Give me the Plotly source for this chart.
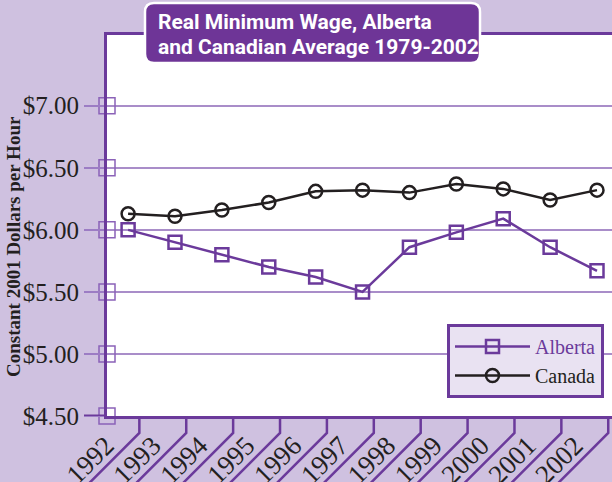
import plotly.graph_objects as go

years = list(range(1992, 2003))
alberta = [6.00, 5.90, 5.80, 5.70, 5.62, 5.50, 5.86, 5.98, 6.09, 5.86, 5.67]
canada = [6.13, 6.11, 6.16, 6.22, 6.31, 6.32, 6.30, 6.37, 6.33, 6.24, 6.32]
ytick_vals = [4.5, 5.0, 5.5, 6.0, 6.5, 7.0]
ytick_text = ["$4.50", "$5.00", "$5.50", "$6.00", "$6.50", "$7.00"]
xtick_text = [str(y) for y in years]
title_lines = ["Real Minimum Wage, Alberta", "and Canadian Average 1979-2002"]
ytitle = "Constant 2001 Dollars per Hour"

BG = "#cfc1e0"
PURPLE = "#6b3a9b"
GRID = "#a98dc9"
DARK = "#231f20"
SERIF = "Liberation Serif, DejaVu Serif, serif"
COND = "Roboto, Liberation Sans, sans-serif"

W, H = 612, 482
L, R, T, B = 107, 0, 35, 66
pw, ph = W - L - R, H - T - B
XR = [1991.55, 2002.32]
YR = [4.5, 7.57]


def px(x):
    return (x - L) / pw


def py(y):
    return (H - B - y) / ph


def xdata_to_paper(v):
    return (v - XR[0]) / (XR[1] - XR[0])


fig = go.Figure()

# y-axis square tick markers
fig.add_trace(go.Scatter(
    x=[XR[0]] * len(ytick_vals), y=ytick_vals, mode="markers",
    marker=dict(symbol="square-open", size=16, color="#8b62b8", line=dict(width=1.5)),
    cliponaxis=False, showlegend=False, hoverinfo="skip"))

fig.add_trace(go.Scatter(
    x=years, y=alberta, mode="lines+markers",
    name='<span style="color:%s">Alberta</span>' % PURPLE,
    line=dict(color=PURPLE, width=2.5),
    marker=dict(symbol="square-open", size=13, color=PURPLE, line=dict(width=2.5)),
    cliponaxis=False))
fig.add_trace(go.Scatter(
    x=years, y=canada, mode="lines+markers",
    name='<span style="color:%s">Canada</span>' % DARK,
    line=dict(color=DARK, width=2.5),
    marker=dict(symbol="circle-open", size=13, color=DARK, line=dict(width=2.5)),
    cliponaxis=False))

shapes = []
# separators between x labels
for yv in years:
    xp = xdata_to_paper(yv + 0.24)
    dx = 70 / pw
    shapes.append(dict(
        type="path", xref="paper", yref="paper",
        path="M %f,%f L %f,%f L %f,%f" % (xp, py(416), xp, py(433), xp - dx, py(433 + 70)),
        line=dict(color=PURPLE, width=2.5), layer="above"))

# extension of x axis to the left at $4.50
shapes.append(dict(type="line", xref="paper", yref="y", x0=px(84), x1=0, y0=4.5, y1=4.5,
                   line=dict(color=PURPLE, width=3)))

# title box (rounded)
x0, x1, y0, y1 = 145, 480, 3, 63
r = 9


def P(x, y):
    return "%f,%f" % (px(x), py(y))


path = ("M " + P(x0 + r, y0) + " L " + P(x1 - r, y0) + " Q " + P(x1, y0) + " " + P(x1, y0 + r) +
        " L " + P(x1, y1 - r) + " Q " + P(x1, y1) + " " + P(x1 - r, y1) +
        " L " + P(x0 + r, y1) + " Q " + P(x0, y1) + " " + P(x0, y1 - r) +
        " L " + P(x0, y0 + r) + " Q " + P(x0, y0) + " " + P(x0 + r, y0) + " Z")
shapes.append(dict(type="path", xref="paper", yref="paper", path=path,
                   fillcolor="#6e3597", line=dict(color="white", width=2.5), layer="above"))

annotations = [
    dict(text="<b>%s</b>" % title_lines[0], xref="paper", yref="paper", x=px(156), y=py(22),
         xanchor="left", yanchor="middle", showarrow=False,
         font=dict(family=COND, size=21, color="white")),
    dict(text="<b>%s</b>" % title_lines[1], xref="paper", yref="paper", x=px(156), y=py(47),
         xanchor="left", yanchor="middle", showarrow=False,
         font=dict(family=COND, size=21, color="white")),
    dict(text="<b>%s</b>" % ytitle, xref="paper", yref="paper", x=px(13), y=py(247),
         xanchor="center", yanchor="middle", textangle=-90, showarrow=False,
         font=dict(family=SERIF, size=19, color=DARK)),
]

fig.update_layout(
    width=W, height=H,
    margin=dict(l=L, r=R, t=T, b=B, pad=0, autoexpand=False),
    paper_bgcolor=BG, plot_bgcolor="white",
    shapes=shapes, annotations=annotations,
    showlegend=True,
    legend=dict(x=px(447), y=py(324), xanchor="left", yanchor="top",
                bgcolor="#e9e2f2", bordercolor=PURPLE, borderwidth=3,
                font=dict(family=SERIF, size=20, color=DARK),
                itemwidth=75, tracegroupgap=0),
    xaxis=dict(range=XR, tickvals=years, ticktext=xtick_text, tickangle=-45,
               automargin=False,
               showgrid=False, zeroline=False, showline=True, mirror=True,
               linecolor=PURPLE, linewidth=3, ticks="",
               ticklabelshift=-22, ticklabelstandoff=0,
               tickfont=dict(family=SERIF, size=27, color=DARK)),
    yaxis=dict(range=YR, tickvals=ytick_vals, ticktext=ytick_text,
               automargin=False,
               showgrid=True, gridcolor=GRID, gridwidth=1.5, zeroline=False,
               showline=True, linecolor=PURPLE, linewidth=3,
               ticks="outside", ticklen=20, tickcolor="#9c7cc4", tickwidth=1.5,
               tickfont=dict(family=SERIF, size=25, color=DARK)),
)

fig.write_html("out.html", config={"displayModeBar": False},
               post_script="document.body.style.margin='0';document.body.style.background='%s';" % BG)
